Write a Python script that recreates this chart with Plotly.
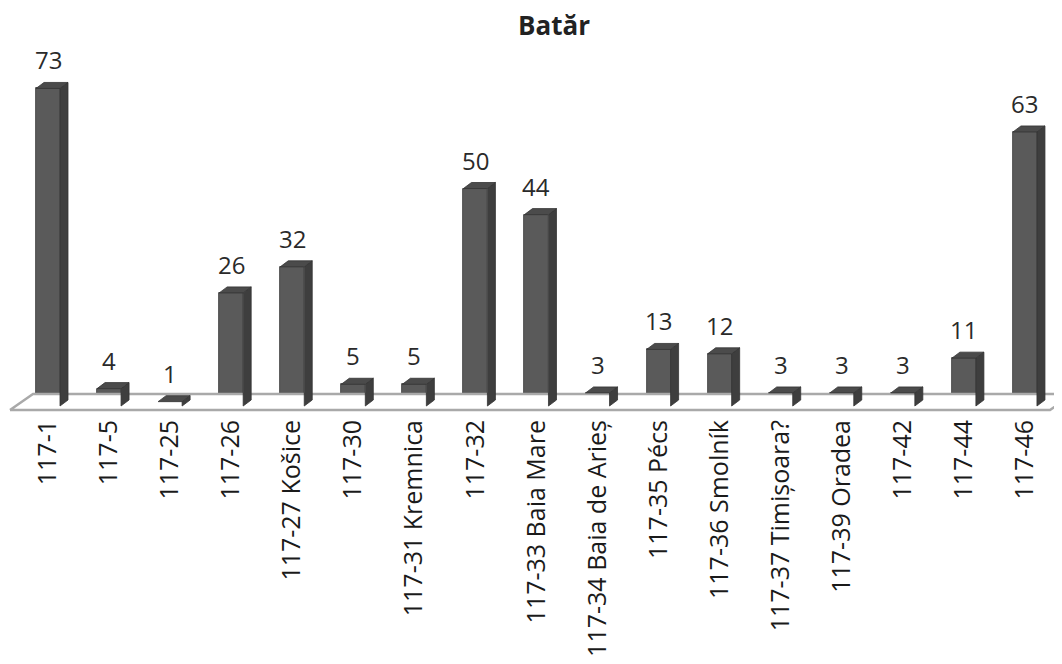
import plotly.graph_objects as go

title = "Batăr"
categories = ["117-1", "117-5", "117-25", "117-26", "117-27 Košice", "117-30",
              "117-31 Kremnica", "117-32", "117-33 Baia Mare", "117-34 Baia de Arieș",
              "117-35 Pécs", "117-36 Smolník", "117-37 Timișoara?", "117-39 Oradea",
              "117-42", "117-44", "117-46"]
values = [73, 4, 1, 26, 32, 5, 5, 50, 44, 3, 13, 12, 3, 3, 3, 11, 63]

LABEL_FONT = "Open Sans"
NUM_FONT = "Open Sans"
n = len(categories)
xs = list(range(n))

OFF = 8  # page body margin
W, H = 1062 - OFF, 664 - OFF
px_per_cat = 61.06
x0_px = 48.0 - OFF
xr = [-x0_px / px_per_cat, -x0_px / px_per_cat + W / px_per_cat]
px_per_val = 4.35
y0_px = 406.0 - OFF
plot_bottom = 414.0 - OFF
yr = [-(plot_bottom - y0_px) / px_per_val, y0_px / px_per_val]

bw = 24 / px_per_cat          # front face width
dx = 8 / px_per_cat           # depth offset (x)
dy = 6 / px_per_val           # depth offset (y)

fig = go.Figure()

# floor
fdx = 23 / px_per_cat
ffront = -4 / px_per_val
fback = 12 / px_per_val
fl = (10 - OFF - x0_px) / px_per_cat
fr = (1050 - OFF - x0_px) / px_per_cat
fig.add_trace(go.Scatter(
    x=[fl, fr, fr + fdx, fl + fdx, fl],
    y=[ffront, ffront, fback, fback, ffront],
    mode="lines", line=dict(color="#a9a9a9", width=2.5),
    fill="toself", fillcolor="white", hoverinfo="skip", showlegend=False))

# side and top faces
sx, sy = [], []
tx, ty = [], []
for i, v in zip(xs, values):
    r = i + bw / 2
    l = i - bw / 2
    sx += [r, r + dx, r + dx, r, r, None]
    sy += [0, dy, v + dy, v, 0, None]
    tx += [l, l + dx, r + dx, r, l, None]
    ty += [v, v + dy, v + dy, v, v, None]

fig.add_trace(go.Scatter(x=sx, y=sy, mode="lines", fill="toself",
                         fillcolor="#3e3e3e", line=dict(color="#333333", width=0.8),
                         hoverinfo="skip", showlegend=False))
fig.add_trace(go.Scatter(x=tx, y=ty, mode="lines", fill="toself",
                         fillcolor="#4b4b4b", line=dict(color="#333333", width=0.8),
                         hoverinfo="skip", showlegend=False))
fig.add_trace(go.Bar(x=xs, y=values, width=bw, marker=dict(color="#5a5a5a",
                     line=dict(color="#3a3a3a", width=0.8)), showlegend=False))

for i, v in zip(xs, values):
    fig.add_annotation(x=i, y=v + dy, text=str(v), showarrow=False,
                       yanchor="bottom", yshift=4,
                       font=dict(family=NUM_FONT, size=24, color="#2a2a2a"))

fig.add_annotation(text=f"<b>{title}</b>", x=(554 - OFF) / W, y=1 - (36 - OFF) / H,
                   xref="paper", yref="paper", xanchor="center", yanchor="middle",
                   showarrow=False, font=dict(family=LABEL_FONT, size=26, color="#222222"))

fig.update_layout(
    width=W, height=H,
    margin=dict(l=0, r=0, t=0, b=int(H - plot_bottom)),
    paper_bgcolor="white", plot_bgcolor="rgba(0,0,0,0)",
    bargap=0,
    xaxis=dict(range=xr, tickvals=xs, ticktext=categories, tickangle=-90,
               showgrid=False, zeroline=False, showline=False, ticks="",
               automargin=False,
               tickfont=dict(family=LABEL_FONT, size=25, color="#1a1a1a")),
    yaxis=dict(range=yr, visible=False, showgrid=False, zeroline=False),
    font=dict(family=LABEL_FONT),
)

fig.write_html("out.html")
